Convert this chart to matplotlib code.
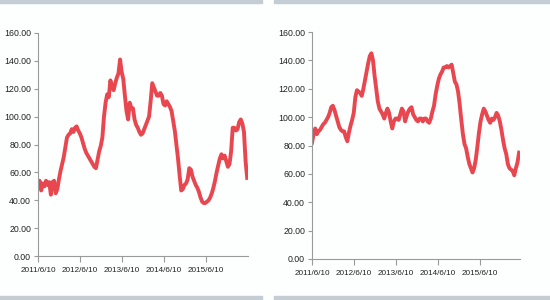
import pandas as pd
import matplotlib.pyplot as plt
from matplotlib.patches import Rectangle

# Biweekly readings starting 2011/6/10
left_values = [
    50, 54, 47, 52, 50, 54, 51, 53, 44, 53, 54, 45, 48, 55, 61, 66, 71, 78, 85, 87,
    88, 91, 89, 92, 93, 90, 88, 85, 81, 77, 74, 72, 70, 68, 66, 64, 63, 69, 75, 79,
    85, 100, 110, 116, 114, 126, 121, 119, 124, 128, 131, 141, 132, 127, 115, 104, 98, 110, 106, 106,
    98, 94, 92, 89, 87, 88, 91, 94, 97, 100, 111, 124, 121, 118, 115, 115, 117, 115, 109, 108,
    111, 109, 107, 104, 97, 90, 80, 70, 58, 47, 48, 51, 52, 55, 63, 62, 57, 54, 51, 49,
    46, 42, 39, 38, 38, 39, 40, 42, 45, 49, 54, 60, 65, 70, 73, 70, 72, 68, 64, 66,
    75, 92, 92, 90, 91, 96, 98, 95, 89, 68, 56,
]
right_values = [
    82, 88, 92, 88, 90, 91, 93, 95, 96, 98, 100, 103, 107, 108, 105, 101, 97, 93, 91, 90,
    90, 86, 83, 89, 94, 98, 103, 114, 119, 118, 117, 115, 120, 126, 132, 138, 143, 145, 140, 129,
    120, 111, 106, 104, 102, 99, 103, 106, 103, 97, 92, 97, 99, 99, 98, 102, 106, 104, 97, 101,
    104, 106, 107, 102, 100, 98, 97, 99, 99, 97, 99, 99, 97, 96, 99, 104, 108, 116, 122, 127,
    130, 132, 135, 135, 136, 135, 136, 137, 131, 125, 123, 118, 109, 98, 88, 81, 78, 72, 67, 64,
    61, 64, 70, 79, 89, 97, 102, 106, 104, 101, 98, 96, 99, 98, 100, 103, 101, 97, 91, 84,
    78, 74, 67, 64, 63, 62, 59, 64, 68, 75,
]
tick_dates = ["2011-06-10", "2012-06-10", "2013-06-10", "2014-06-10", "2015-06-10"]
tick_labels = ["2011/6/10", "2012/6/10", "2013/6/10", "2014/6/10", "2015/6/10"]
y_ticks = [0, 20, 40, 60, 80, 100, 120, 140, 160]

line_color = "#e8474f"
axis_color = "#9a9a9a"
text_color = "#222222"
band_color = "#c4ccd4"

plt.rcParams['font.family'] = ['Liberation Sans', 'DejaVu Sans']

fig = plt.figure(figsize=(5.5, 3.0), dpi=100, facecolor="#fdfefe")

# grey bands at top and bottom of each panel
for x0, w in [(0, 262), (274, 276)]:
    fig.patches.append(Rectangle((x0 / 550, 297 / 300), w / 550, 3 / 300,
                                 transform=fig.transFigure, color=band_color, zorder=0))
    fig.patches.append(Rectangle((x0 / 550, 0), w / 550, 4 / 300,
                                 transform=fig.transFigure, color=band_color, zorder=0))

panels = [
    (left_values, [38 / 550, 44 / 300, 210 / 550, 223 / 300], "2016-06-10"),
    (right_values, [312 / 550, 41 / 300, 208 / 550, 227 / 300], "2016-05-28"),
]

for values, rect, end in panels:
    ax = fig.add_axes(rect)
    dates = pd.date_range("2011-06-10", periods=len(values), freq="14D")
    ax.plot(dates, values, color=line_color, linewidth=2.8, solid_joinstyle="round")
    ax.set_facecolor("none")
    ax.set_xlim(pd.Timestamp("2011-06-10"), pd.Timestamp(end))
    ax.set_ylim(0, 160)
    ax.set_yticks(y_ticks)
    ax.set_yticklabels([f"{v:.2f}" for v in y_ticks])
    ax.set_xticks(pd.to_datetime(tick_dates))
    ax.set_xticklabels(tick_labels)
    for side in ["top", "right"]:
        ax.spines[side].set_visible(False)
    for side in ["left", "bottom"]:
        ax.spines[side].set_color(axis_color)
        ax.spines[side].set_linewidth(0.8)
    ax.tick_params(axis="y", colors=axis_color, labelcolor=text_color,
                   labelsize=6.3, direction="out", length=3, width=0.8, pad=2)
    ax.tick_params(axis="x", colors=axis_color, labelcolor=text_color,
                   labelsize=5.9, direction="out", length=4, width=0.8, pad=4)

fig.savefig("out.png", dpi=100, facecolor=fig.get_facecolor())
